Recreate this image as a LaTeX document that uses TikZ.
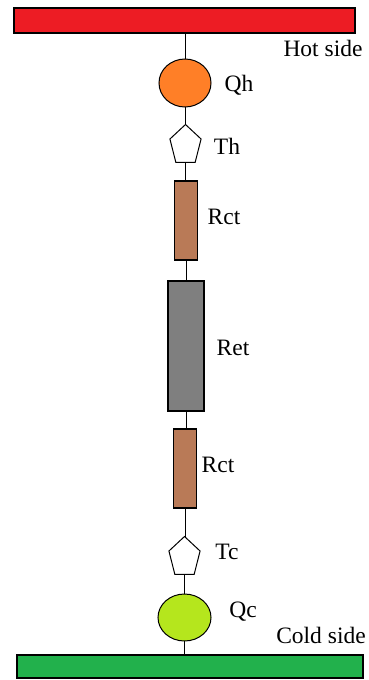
\documentclass[tikz,border=0pt]{standalone}
\usepackage{fontspec}
\setmainfont{Liberation Serif}
\usetikzlibrary{shapes.geometric}
\definecolor{hotred}{HTML}{ED1C24}
\definecolor{coldgreen}{HTML}{22B14C}
\definecolor{qhorange}{HTML}{FF7F27}
\definecolor{qclime}{HTML}{B5E61D}
\definecolor{rbrown}{HTML}{B97A57}
\definecolor{rgray}{HTML}{7F7F7F}
\begin{document}
\begin{tikzpicture}[x=1pt,y=-1pt,
  every node/.style={inner sep=0pt,outer sep=0pt},
  bar/.style={draw=black,line width=1.2pt,rectangle},
  blob/.style={draw=black,line width=1pt,ellipse,minimum width=52pt,minimum height=48pt},
  penta/.style={draw=black,fill=white,line width=1pt,regular polygon,regular polygon sides=5,minimum size=42pt,xscale=0.78,transform shape},
  resist/.style={draw=black,line width=1.2pt,rectangle},
  lbl/.style={font=\fontsize{23.5}{27}\selectfont,text=black},
  wire/.style={draw=black,line width=1pt}]
\useasboundingbox (0,0) rectangle (368,680);
\fill[white] (0,0) rectangle (368,680);
% bars
\node[bar,fill=hotred,minimum width=341pt,minimum height=25pt] (hot) at (184.5,20.5) {};
\node[bar,fill=coldgreen,minimum width=346pt,minimum height=23pt] (cold) at (190,666.5) {};
% chain elements
\node[blob,fill=qhorange] (qh) at (185,83) {};
\node[penta] (th) at (185.5,145.5) {};
\node[resist,fill=rbrown,minimum width=23pt,minimum height=79pt] (rct1) at (186,220.5) {};
\node[resist,fill=rgray,minimum width=36pt,minimum height=130pt] (ret) at (186,346) {};
\node[resist,fill=rbrown,minimum width=23pt,minimum height=79pt] (rct2) at (185,468.5) {};
\node[penta] (tc) at (184.5,557.5) {};
\node[blob,fill=qclime,minimum width=53pt,minimum height=47pt] (qc) at (184.5,617.5) {};
\coordinate (hotj) at (hot.south -| qh.north);
\coordinate (coldj) at (cold.north -| qc.south);
% connectors
\draw[wire] (hotj) -- (qh.north);
\draw[wire] (qh.south) -- (qh.south |- th.north);
\draw[wire] (th.south) -- (th.south |- rct1.north);
\draw[wire] (rct1.south) -- (rct1.south |- ret.north);
\draw[wire] (ret.south) -- (ret.south |- rct2.north);
\draw[wire] (rct2.south) -- (rct2.south |- tc.north);
\draw[wire] (tc.south) -- (tc.south |- qc.north);
\draw[wire] (qc.south) -- (coldj);
% labels
\node[lbl] (lhot) at (323,48) {Hot side};
\node[lbl] (lqh) at (239,85) {Qh};
\node[lbl] (lth) at (227,146) {Th};
\node[lbl] (lrct1) at (224,217) {Rct};
\node[lbl] (lret) at (233,348) {Ret};
\node[lbl] (lrct2) at (218,465) {Rct};
\node[lbl] (ltc) at (227,552) {Tc};
\node[lbl] (lqc) at (243,612) {Qc};
\node[lbl] (lcold) at (321,635) {Cold side};
\end{tikzpicture}
\end{document}
